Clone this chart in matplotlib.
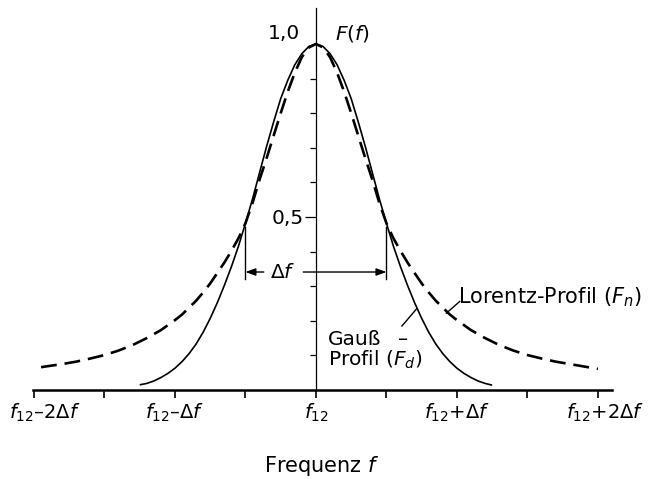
import matplotlib
matplotlib.use("Agg")
import matplotlib.pyplot as plt
from matplotlib.transforms import ScaledTranslation

plt.rcParams['font.family'] = ['DejaVu Sans']
plt.rcParams['mathtext.fontset'] = 'dejavusans'

# ---- data (x in units of Δf relative to f12) ----
gauss_x = [-1.25, -1.2, -1.15, -1.1, -1.05, -1.0, -0.95, -0.9, -0.85, -0.8,
           -0.75, -0.7, -0.65, -0.6, -0.55, -0.5, -0.45, -0.4, -0.35, -0.3,
           -0.25, -0.2, -0.15, -0.1, -0.05, 0.0, 0.05, 0.1, 0.15, 0.2, 0.25,
           0.3, 0.35, 0.4, 0.45, 0.5, 0.55, 0.6, 0.65, 0.7, 0.75, 0.8, 0.85,
           0.9, 0.95, 1.0, 1.05, 1.1, 1.15, 1.2, 1.25]
gauss_y = [0.015, 0.019, 0.026, 0.036, 0.048, 0.063, 0.082, 0.105, 0.133,
           0.167, 0.207, 0.252, 0.302, 0.356, 0.415, 0.482, 0.552, 0.628,
           0.704, 0.775, 0.842, 0.895, 0.940, 0.972, 0.993, 1.000, 0.993,
           0.972, 0.940, 0.895, 0.842, 0.775, 0.704, 0.628, 0.552, 0.482,
           0.415, 0.356, 0.302, 0.252, 0.207, 0.167, 0.133, 0.105, 0.082,
           0.063, 0.048, 0.036, 0.026, 0.019, 0.014]

lorentz_x = [-1.95, -1.9, -1.8, -1.7, -1.6, -1.5, -1.4, -1.3, -1.2, -1.1,
             -1.0, -0.95, -0.9, -0.85, -0.8, -0.75, -0.7, -0.65, -0.6, -0.55,
             -0.5, -0.45, -0.4, -0.35, -0.3, -0.25, -0.2, -0.15, -0.1, -0.05,
             0.0, 0.05, 0.1, 0.15, 0.2, 0.25, 0.3, 0.35, 0.4, 0.45, 0.5, 0.55,
             0.6, 0.65, 0.7, 0.75, 0.8, 0.85, 0.9, 0.95, 1.0, 1.1, 1.2, 1.3,
             1.4, 1.5, 1.6, 1.7, 1.8, 1.9, 2.0]
lorentz_y = [0.066, 0.069, 0.075, 0.082, 0.091, 0.101, 0.114, 0.130, 0.150,
             0.173, 0.202, 0.218, 0.238, 0.258, 0.282, 0.308, 0.338, 0.368,
             0.402, 0.438, 0.482, 0.540, 0.608, 0.670, 0.735, 0.800, 0.862,
             0.917, 0.962, 0.990, 1.000, 0.990, 0.962, 0.917, 0.862, 0.800,
             0.735, 0.670, 0.608, 0.540, 0.482, 0.438, 0.402, 0.368, 0.338,
             0.308, 0.282, 0.258, 0.238, 0.218, 0.202, 0.173, 0.150, 0.130,
             0.114, 0.101, 0.091, 0.082, 0.075, 0.068, 0.061]

xtick_pos = [-2, -1, 0, 1, 2]
xtick_labels = [r'$f_{12}$–2Δ$f$', r'$f_{12}$–Δ$f$', r'$f_{12}$',
                r'$f_{12}$+Δ$f$', r'$f_{12}$+2Δ$f$']
xminor_pos = [-1.5, -0.5, 0.5, 1.5]
yminor_pos = [0.1, 0.2, 0.3, 0.4, 0.6, 0.7, 0.8, 0.9]
ymajor_pos = [0.5]
ymajor_labels = ['0,5']

half_width = 0.5      # ±Δf/2
half_level = 0.47     # where the curves cross
arrow_level = 0.341

FS = 14.5

# ---- figure ----
W, H = 653, 479
fig = plt.figure(figsize=(W / 100, H / 100), dpi=100)
x0, x1, y0, y1 = 33, 612, 390, 8
ax = fig.add_axes([x0 / W, 1 - y0 / H, (x1 - x0) / W, (y0 - y1) / H])
ax.set_xlim(-2.007, 2.10)
ax.set_ylim(0, 1.104)

ax.plot(gauss_x, gauss_y, color='black', lw=1.2, solid_capstyle='butt',
        solid_joinstyle='round')
ax.plot(lorentz_x, lorentz_y, color='black', lw=1.9, dashes=(6, 3),
        dash_capstyle='butt')

for s in ['top', 'right']:
    ax.spines[s].set_visible(False)
ax.spines['left'].set_position(('data', 0))
ax.spines['left'].set_linewidth(0.9)
ax.spines['bottom'].set_linewidth(1.8)

ax.set_xticks(xtick_pos)
ax.set_xticklabels(xtick_labels, fontsize=14)
ax.set_xticks(xminor_pos, minor=True)
ax.tick_params(axis='x', which='both', direction='out', length=5.5, width=1.2,
               pad=3)
labels = ax.get_xticklabels()
for lab, dx in ((labels[0], 11), (labels[-1], 7)):
    lab.set_transform(lab.get_transform() +
                      ScaledTranslation(dx / 100, 0, fig.dpi_scale_trans))

ax.set_yticks(ymajor_pos)
ax.set_yticklabels(ymajor_labels, fontsize=FS)
ax.set_yticks(yminor_pos, minor=True)
ax.tick_params(axis='y', which='major', direction='out', length=8, width=0.9,
               pad=1)
ax.tick_params(axis='y', which='minor', direction='out', length=4.5, width=0.9)

ax.text(-0.11, 1.03, '1,0', fontsize=FS, ha='right', va='center')
ax.text(0.135, 1.03, r'$F$($f$)', fontsize=FS, ha='left', va='center')

# Δf markers
for sx in (-half_width, half_width):
    ax.plot([sx, sx], [half_level, 0.32], color='black', lw=1.0)
arrowprops = dict(arrowstyle='-|>,head_length=0.6,head_width=0.22',
                  color='black', lw=1.0, shrinkA=0, shrinkB=0)
ax.annotate('', xy=(-half_width, arrow_level), xytext=(-0.37, arrow_level),
            arrowprops=arrowprops)
ax.annotate('', xy=(half_width, arrow_level), xytext=(-0.09, arrow_level),
            arrowprops=arrowprops)
ax.text(-0.234, arrow_level, r'Δ$f$', fontsize=FS, ha='center', va='center')

# curve labels
ax.text(1.007, 0.269, r'Lorentz-Profil ($F_n$)', fontsize=15, ha='left',
        va='center')
ax.plot([0.925, 1.02], [0.222, 0.256], color='black', lw=1.0)
ax.text(0.085, 0.147, 'Gauß', fontsize=FS, ha='left', va='center')
ax.text(0.62, 0.147, '–', fontsize=FS, ha='center', va='center')
ax.text(0.085, 0.087, r'Profil ($F_d$)', fontsize=FS, ha='left', va='center')
ax.plot([0.61, 0.715], [0.185, 0.235], color='black', lw=1.0)

fig.text(322 / W, 1 - 466 / H, r'Frequenz $f$', fontsize=15, ha='center',
         va='center')

fig.savefig('out.png', dpi=100)
